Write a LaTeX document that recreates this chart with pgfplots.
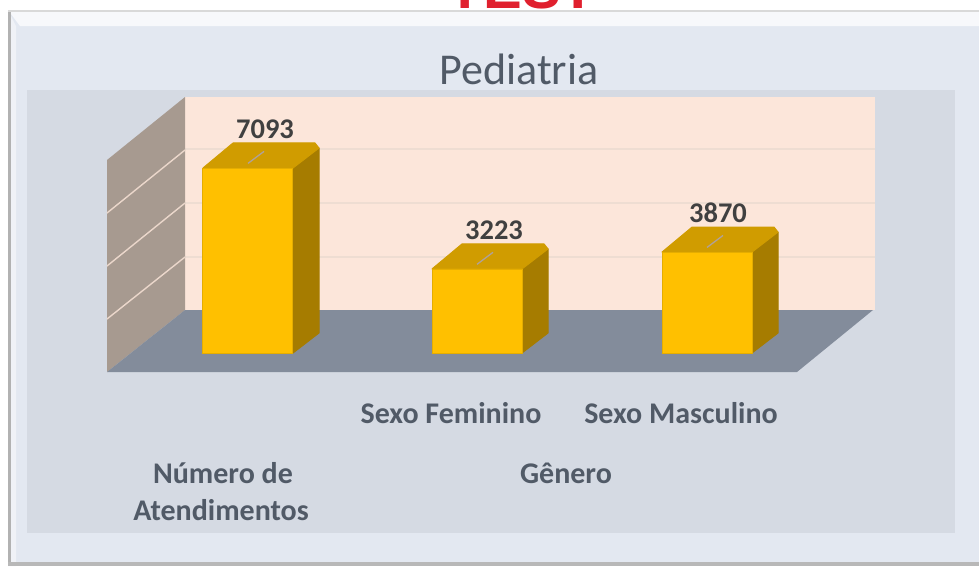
\documentclass[border=0pt]{standalone}
\usepackage{pgfplots}
\usepackage{fontspec}
\setmainfont{Carlito}
\newfontfamily\redfont{Liberation Sans}
\pgfplotsset{compat=1.18}
\definecolor{panel}{HTML}{E3E8F1}
\definecolor{plotbg}{HTML}{D5DAE3}
\definecolor{wallback}{HTML}{FCE6DA}
\definecolor{wallgrid}{HTML}{EEDDD2}
\definecolor{wallleft}{HTML}{A79A90}
\definecolor{floorc}{HTML}{838C9B}
\definecolor{front}{HTML}{FFC000}
\definecolor{topc}{HTML}{D09C00}
\definecolor{sidec}{HTML}{A67C00}
\definecolor{lab}{HTML}{515A67}
\definecolor{num}{HTML}{404040}
\definecolor{redt}{HTML}{E0202E}
\newcommand{\fs}[1]{\fontsize{#1}{#1}\selectfont}
\pgfplotsset{pix/.style={scale only axis,width=979pt,height=566pt,xmin=0,xmax=979,hide axis,clip=true,anchor=south west,at={(0,0)}}}
\begin{document}
\begin{tikzpicture}[x=1pt,y=1pt]
\clip (0,0) rectangle (979,566);
% background in pixel coordinates
\begin{axis}[pix,ymin=0,ymax=566,y dir=reverse]
\addplot[fill=white,draw=none] coordinates {(0,0)(979,0)(979,566)(0,566)} -- cycle;
\addplot[fill=panel,draw=none] coordinates {(8,10)(979,10)(979,566)(8,566)} -- cycle;
\addplot[fill=white!70!panel,draw=none] coordinates {(8,10)(979,10)(979,26)(20,26)} -- cycle;
\addplot[fill=white!45!panel,draw=none] coordinates {(8,10)(16,26)(16,566)(8,566)} -- cycle;
\addplot[fill=black!30,draw=none] coordinates {(8,10)(11,10)(11,566)(8,566)} -- cycle;
\addplot[fill=black!15,draw=none] coordinates {(8,10)(979,10)(979,12)(8,12)} -- cycle;
\addplot[fill=black!28,draw=none] coordinates {(8,562)(979,562)(979,566)(8,566)} -- cycle;
\addplot[fill=plotbg,draw=none] coordinates {(27,90)(955,90)(955,533)(27,533)} -- cycle;
\addplot[fill=wallback,draw=none] coordinates {(185,97)(875,97)(875,310)(185,310)} -- cycle;
\addplot[draw=wallgrid,line width=1.6pt] coordinates {(185,149)(875,149)};
\addplot[draw=wallgrid,line width=1.6pt] coordinates {(185,203)(875,203)};
\addplot[draw=wallgrid,line width=1.6pt] coordinates {(185,257)(875,257)};
\addplot[fill=wallleft,draw=none] coordinates {(185,97)(107,160)(107,372)(185,310)} -- cycle;
\addplot[draw=wallback!80!wallleft,line width=1.4pt] coordinates {(107,213)(185,150)};
\addplot[draw=wallback!80!wallleft,line width=1.4pt] coordinates {(107,266)(185,203)};
\addplot[draw=wallback!80!wallleft,line width=1.4pt] coordinates {(107,319)(185,257)};
\addplot[fill=floorc,draw=none] coordinates {(185,310)(873,310)(797,372)(107,372)} -- cycle;
\node[anchor=base,text=redt,font=\redfont\bfseries\fs{58}] at (axis cs:522,8) {TEST};
\node[text=lab,font=\fs{44}] at (axis cs:519,69) {Pediatria};
\node[text=lab,font=\bfseries\fs{30}] at (axis cs:451,413) {Sexo Feminino};
\node[text=lab,font=\bfseries\fs{30}] at (axis cs:681,413) {Sexo Masculino};
\node[text=lab,font=\bfseries\fs{30}] at (axis cs:566,473) {Gênero};
\node[text=lab,font=\bfseries\fs{30}] at (axis cs:223,473) {Número de};
\node[text=lab,font=\bfseries\fs{30}] at (axis cs:221,510) {Atendimentos};
\end{axis}
% data: value 0 at pixel row 353, 7093 at pixel row 168
\begin{axis}[pix,ymin=-8167,ymax=13535,
  /pgf/number format/1000 sep={},/pgf/number format/assume math mode=true]
% right faces
\addplot[fill=sidec,draw=sidec,line join=round,line width=1pt] coordinates {(293,0)(319,767)(319,7860)(293,7093)} -- cycle;
\addplot[fill=sidec,draw=sidec,line join=round,line width=1pt] coordinates {(522,0)(548,767)(548,3990)(522,3223)} -- cycle;
\addplot[fill=sidec,draw=sidec,line join=round,line width=1pt] coordinates {(752,0)(778,767)(778,4637)(752,3870)} -- cycle;
% top faces
\addplot[fill=topc,draw=topc,line join=round,line width=1pt] coordinates {(203,7093)(233,8052)(315,8052)(319,7860)(293,7093)} -- cycle;
\addplot[fill=topc,draw=topc,line join=round,line width=1pt] coordinates {(432,3223)(462,4182)(544,4182)(548,3990)(522,3223)} -- cycle;
\addplot[fill=topc,draw=topc,line join=round,line width=1pt] coordinates {(662,3870)(692,4829)(774,4829)(778,4637)(752,3870)} -- cycle;
% tick on top
\addplot[draw=black!30!wallback,line width=1.3pt] coordinates {(248,7270)(264,7730)};
\addplot[draw=black!30!wallback,line width=1.3pt] coordinates {(477,3400)(493,3860)};
\addplot[draw=black!30!wallback,line width=1.3pt] coordinates {(707,4047)(723,4507)};
% front faces
\addplot[ybar,bar width=90pt,fill=front,draw=front!90!black,line width=0.6pt,bar shift=0pt] coordinates {(247.5,7093)(477,3223)(707,3870)};
% value labels
\addplot[draw=none,mark=none,nodes near coords,
  every node near coord/.append style={text=num,font=\bfseries\fs{28.5},anchor=center,yshift=39pt}]
  coordinates {(265,7093)(494,3223)(718,3870)};
\end{axis}
\end{tikzpicture}
\end{document}
